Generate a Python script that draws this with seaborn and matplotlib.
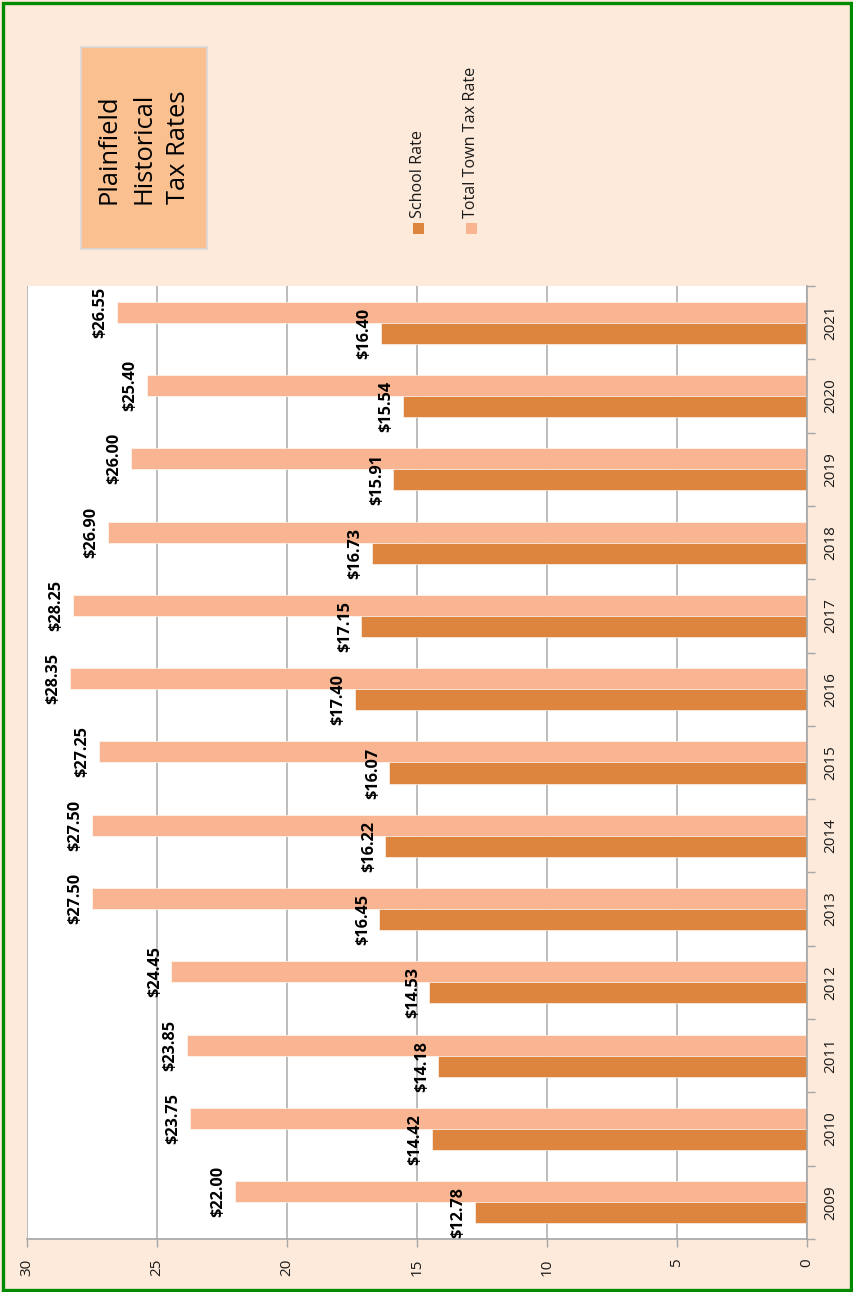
import numpy as np
import pandas as pd
import matplotlib
matplotlib.use("Agg")
import matplotlib.pyplot as plt
from matplotlib.patches import Rectangle
import seaborn as sns

# ---- data ----
years = ["2009", "2010", "2011", "2012", "2013", "2014", "2015",
         "2016", "2017", "2018", "2019", "2020", "2021"]
school_rate = [12.78, 14.42, 14.18, 14.53, 16.45, 16.22, 16.07,
               17.40, 17.15, 16.73, 15.91, 15.54, 16.40]
total_rate = [22.00, 23.75, 23.85, 24.45, 27.50, 27.50, 27.25,
              28.35, 28.25, 26.90, 26.00, 25.40, 26.55]
series_names = ["School Rate", "Total Town Tax Rate"]
x_ticks = [0, 5, 10, 15, 20, 25, 30]
title_text = "Plainfield\nHistorical\nTax Rates"

colors = {"School Rate": "#DD843F", "Total Town Tax Rate": "#F9B591"}
BG = "#FDEADA"

df = pd.DataFrame({
    "year": years * 2,
    "value": school_rate + total_rate,
    "series": [series_names[0]] * len(years) + [series_names[1]] * len(years),
})

sns.set_theme(style="white")
plt.rcParams["font.family"] = ["Open Sans", "DejaVu Sans"]

W, H = 854, 1292
fig = plt.figure(figsize=(W / 100, H / 100), dpi=100, facecolor=BG)


def fx(x):
    return x / W


def fy(y):
    return 1 - y / H


ax = fig.add_axes([fx(27), fy(1239), (807 - 27) / W, (1239 - 286) / H])
ax.set_facecolor("white")

sns.barplot(data=df, x="value", y="year", hue="series",
            order=years[::-1], hue_order=series_names[::-1],
            palette=colors, orient="h", width=0.574, gap=0,
            saturation=1, errorbar=None, legend=False,
            edgecolor="white", linewidth=0.4, ax=ax)

ax.set_xlim(30, 0)
ax.set_xticks(x_ticks)
ax.set_xticklabels([str(t) for t in x_ticks], rotation=90)
ax.set_xlabel("")
ax.set_ylabel("")

ax.yaxis.tick_right()
ax.set_yticks(np.arange(-0.5, len(years), 1.0), minor=True)
ax.tick_params(axis="y", which="major", length=0, pad=12,
               labelsize=11, labelcolor="#1a1a1a", labelrotation=90)
ax.tick_params(axis="y", which="minor", right=True, left=False,
               length=6, width=1, color="#A6A6A6", direction="out")
ax.tick_params(axis="x", which="major", bottom=True, length=6, width=1,
               color="#A6A6A6", direction="out", pad=8,
               labelsize=11, labelcolor="#1a1a1a")
for lbl in ax.get_yticklabels():
    lbl.set_va("center")
    lbl.set_ha("left")

ax.xaxis.grid(True, color="#B0B0B0", linewidth=1.2)
ax.yaxis.grid(False)
ax.set_axisbelow(True)
for s in ["top", "left"]:
    ax.spines[s].set_visible(False)
for s in ["bottom", "right"]:
    ax.spines[s].set_color("#A6A6A6")
    ax.spines[s].set_linewidth(1.2)

for cont in ax.containers:
    labs = [f"${v:.2f}" for v in cont.datavalues]
    ax.bar_label(cont, labels=labs, padding=6, rotation=90,
                 fontsize=11.7, fontweight="bold", color="black",
                 family=["Open Sans", "DejaVu Sans"])

# title box
fig.patches.append(Rectangle((fx(81), fy(249)), (207 - 81) / W, (249 - 47) / H,
                             transform=fig.transFigure, facecolor="#FAC090",
                             edgecolor="#D9D9D9", linewidth=1.2))
fig.text(fx(144), fy(204), title_text, rotation=90, ha="center", va="bottom",
         fontsize=18.4, color="black", multialignment="left", linespacing=1.5)

# legend
leg_x = [418.5, 471.5]
for name, xc in zip(series_names, leg_x):
    fig.patches.append(Rectangle((fx(xc - 5.5), fy(234)), 11 / W, 11 / H,
                                 transform=fig.transFigure,
                                 facecolor=colors[name], edgecolor="none"))
    fig.text(fx(xc), fy(218), name, rotation=90, ha="center", va="bottom",
             fontsize=11.6, color="#1a1a1a")

# green outer border
fig.patches.append(Rectangle((fx(2.5), fy(1289.5)), (W - 5) / W, (H - 5) / H,
                             transform=fig.transFigure, facecolor="none",
                             edgecolor="#008A00", linewidth=2.4))

fig.savefig("out.png", dpi=100, facecolor=BG)
